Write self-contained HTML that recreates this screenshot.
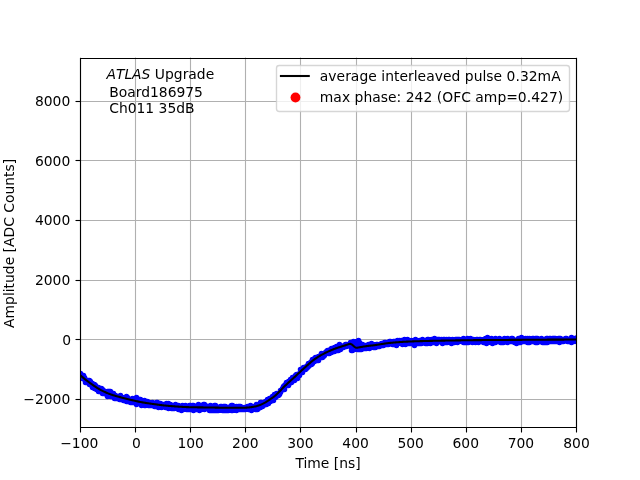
<!DOCTYPE html>
<html lang="en"><head><meta charset="utf-8"><title>Average interleaved pulse</title>
<style>
html,body{margin:0;padding:0;background:#ffffff;overflow:hidden}
svg{display:block}
text{font-family:"DejaVu Sans","Liberation Sans",sans-serif;font-size:13.89px;fill:#000000}
.g{stroke:#b0b0b0;stroke-width:1.11;fill:none}
.k{stroke:#000000;stroke-width:1.11;fill:none}
.lg{letter-spacing:0.03px}.p{white-space:pre}
.m{text-anchor:middle}.e{text-anchor:end}.i{font-style:oblique}
</style></head><body>
<svg width="640" height="480" viewBox="0 0 640 480" style="will-change:transform">
<rect x="0" y="0" width="640" height="480" fill="#ffffff"/>
<clipPath id="ax"><rect x="80" y="57.6" width="496" height="369.6"/></clipPath>
<g class="g">
<path d="M80.5 57.6V427.2"/>
<path d="M135.5 57.6V427.2"/>
<path d="M190.5 57.6V427.2"/>
<path d="M245.5 57.6V427.2"/>
<path d="M300.5 57.6V427.2"/>
<path d="M356.5 57.6V427.2"/>
<path d="M411.5 57.6V427.2"/>
<path d="M466.5 57.6V427.2"/>
<path d="M521.5 57.6V427.2"/>
<path d="M576.5 57.6V427.2"/>
<path d="M80 399.5H576"/>
<path d="M80 339.5H576"/>
<path d="M80 280.5H576"/>
<path d="M80 220.5H576"/>
<path d="M80 160.5H576"/>
<path d="M80 101.5H576"/>
</g>
<g clip-path="url(#ax)">
<path d="M62.5 355.5h0M62.5 356.5h0M63.5 356.5h0M63.5 354.5h0M64.5 356.5h0M64.5 358.5h0M64.5 355.5h0M65.5 359.5h0M66.5 359.5h0M66.5 358.5h0M67.5 359.5h0M67.5 360.5h0M68.5 361.5h0M68.5 362.5h0M68.5 364.5h0M69.5 364.5h0M70.5 367.5h0M70.5 363.5h0M71.5 366.5h0M71.5 364.5h0M72.5 364.5h0M72.5 367.5h0M73.5 369.5h0M73.5 368.5h0M74.5 369.5h0M74.5 368.5h0M75.5 367.5h0M75.5 369.5h0M76.5 372.5h0M76.5 369.5h0M76.5 371.5h0M77.5 369.5h0M77.5 373.5h0M78.5 371.5h0M78.5 372.5h0M78.5 375.5h0M79.5 373.5h0M79.5 376.5h0M80.5 375.5h0M80.5 377.5h0M80.5 373.5h0M81.5 377.5h0M81.5 376.5h0M82.5 378.5h0M82.5 376.5h0M83.5 375.5h0M83.5 377.5h0M84.5 377.5h0M84.5 379.5h0M85.5 379.5h0M85.5 382.5h0M86.5 381.5h0M86.5 380.5h0M87.5 382.5h0M87.5 380.5h0M88.5 381.5h0M88.5 380.5h0M89.5 380.5h0M89.5 384.5h0M90.5 381.5h0M90.5 383.5h0M90.5 382.5h0M91.5 385.5h0M92.5 383.5h0M92.5 386.5h0M92.5 387.5h0M93.5 387.5h0M93.5 385.5h0M94.5 384.5h0M94.5 388.5h0M95.5 386.5h0M95.5 385.5h0M96.5 389.5h0M96.5 388.5h0M97.5 387.5h0M98.5 387.5h0M98.5 391.5h0M99.5 389.5h0M100.5 389.5h0M100.5 391.5h0M100.5 388.5h0M101.5 389.5h0M101.5 388.5h0M102.5 389.5h0M102.5 393.5h0M102.5 391.5h0M103.5 390.5h0M103.5 391.5h0M104.5 393.5h0M104.5 391.5h0M104.5 392.5h0M105.5 393.5h0M105.5 392.5h0M106.5 392.5h0M106.5 394.5h0M107.5 391.5h0M107.5 396.5h0M108.5 391.5h0M108.5 394.5h0M108.5 395.5h0M109.5 391.5h0M109.5 394.5h0M110.5 395.5h0M110.5 391.5h0M110.5 396.5h0M111.5 396.5h0M111.5 394.5h0M112.5 396.5h0M112.5 393.5h0M112.5 394.5h0M113.5 394.5h0M113.5 393.5h0M114.5 395.5h0M114.5 398.5h0M114.5 396.5h0M115.5 395.5h0M116.5 398.5h0M116.5 396.5h0M117.5 396.5h0M117.5 397.5h0M118.5 398.5h0M118.5 397.5h0M119.5 396.5h0M119.5 399.5h0M120.5 396.5h0M120.5 399.5h0M120.5 395.5h0M121.5 397.5h0M122.5 399.5h0M122.5 397.5h0M123.5 399.5h0M123.5 400.5h0M124.5 399.5h0M124.5 400.5h0M124.5 397.5h0M125.5 398.5h0M125.5 397.5h0M126.5 396.5h0M126.5 397.5h0M126.5 401.5h0M127.5 401.5h0M127.5 397.5h0M128.5 400.5h0M128.5 399.5h0M129.5 400.5h0M129.5 399.5h0M130.5 402.5h0M130.5 400.5h0M131.5 401.5h0M131.5 399.5h0M132.5 398.5h0M132.5 400.5h0M132.5 402.5h0M133.5 402.5h0M134.5 399.5h0M134.5 402.5h0M135.5 402.5h0M135.5 401.5h0M136.5 404.5h0M136.5 397.5h0M136.5 399.5h0M137.5 399.5h0M137.5 400.5h0M138.5 401.5h0M138.5 400.5h0M138.5 402.5h0M139.5 399.5h0M139.5 402.5h0M140.5 400.5h0M140.5 403.5h0M140.5 399.5h0M141.5 401.5h0M141.5 405.5h0M142.5 402.5h0M142.5 404.5h0M142.5 403.5h0M143.5 403.5h0M143.5 401.5h0M144.5 403.5h0M144.5 400.5h0M144.5 405.5h0M145.5 405.5h0M145.5 404.5h0M146.5 401.5h0M146.5 402.5h0M146.5 403.5h0M147.5 401.5h0M147.5 404.5h0M148.5 405.5h0M148.5 403.5h0M149.5 404.5h0M149.5 402.5h0M150.5 404.5h0M150.5 405.5h0M150.5 403.5h0M151.5 404.5h0M152.5 405.5h0M152.5 402.5h0M153.5 405.5h0M154.5 406.5h0M154.5 404.5h0M155.5 406.5h0M156.5 403.5h0M156.5 402.5h0M156.5 406.5h0M157.5 402.5h0M157.5 405.5h0M158.5 407.5h0M158.5 404.5h0M159.5 405.5h0M160.5 403.5h0M160.5 404.5h0M161.5 406.5h0M161.5 407.5h0M162.5 405.5h0M162.5 406.5h0M163.5 404.5h0M163.5 405.5h0M164.5 405.5h0M164.5 404.5h0M165.5 407.5h0M165.5 406.5h0M166.5 405.5h0M166.5 403.5h0M166.5 406.5h0M167.5 404.5h0M168.5 404.5h0M168.5 403.5h0M168.5 408.5h0M169.5 405.5h0M170.5 407.5h0M170.5 404.5h0M171.5 406.5h0M171.5 408.5h0M172.5 405.5h0M172.5 407.5h0M173.5 407.5h0M173.5 408.5h0M174.5 408.5h0M174.5 405.5h0M175.5 404.5h0M175.5 406.5h0M176.5 407.5h0M176.5 405.5h0M177.5 407.5h0M177.5 408.5h0M178.5 409.5h0M178.5 405.5h0M179.5 408.5h0M180.5 408.5h0M180.5 409.5h0M181.5 410.5h0M181.5 408.5h0M182.5 407.5h0M182.5 405.5h0M183.5 409.5h0M183.5 408.5h0M184.5 408.5h0M184.5 406.5h0M185.5 406.5h0M185.5 405.5h0M186.5 409.5h0M186.5 407.5h0M186.5 406.5h0M187.5 407.5h0M187.5 408.5h0M188.5 407.5h0M188.5 409.5h0M189.5 407.5h0M189.5 405.5h0M190.5 409.5h0M190.5 405.5h0M191.5 408.5h0M191.5 409.5h0M192.5 409.5h0M192.5 406.5h0M192.5 405.5h0M193.5 410.5h0M193.5 405.5h0M194.5 406.5h0M194.5 408.5h0M194.5 407.5h0M195.5 408.5h0M195.5 406.5h0M196.5 409.5h0M196.5 406.5h0M196.5 408.5h0M197.5 405.5h0M197.5 407.5h0M198.5 404.5h0M198.5 406.5h0M198.5 407.5h0M199.5 410.5h0M199.5 407.5h0M200.5 405.5h0M200.5 409.5h0M201.5 409.5h0M201.5 406.5h0M202.5 407.5h0M202.5 406.5h0M203.5 404.5h0M203.5 408.5h0M204.5 404.5h0M204.5 406.5h0M204.5 409.5h0M205.5 407.5h0M205.5 405.5h0M206.5 408.5h0M206.5 406.5h0M207.5 407.5h0M208.5 408.5h0M208.5 407.5h0M209.5 408.5h0M209.5 410.5h0M210.5 406.5h0M210.5 405.5h0M211.5 410.5h0M212.5 406.5h0M212.5 410.5h0M213.5 408.5h0M214.5 410.5h0M214.5 405.5h0M214.5 407.5h0M215.5 409.5h0M215.5 405.5h0M216.5 407.5h0M216.5 410.5h0M217.5 409.5h0M218.5 408.5h0M218.5 409.5h0M218.5 410.5h0M219.5 408.5h0M219.5 409.5h0M220.5 406.5h0M220.5 409.5h0M221.5 406.5h0M221.5 409.5h0M222.5 408.5h0M222.5 407.5h0M222.5 410.5h0M223.5 406.5h0M223.5 408.5h0M224.5 406.5h0M224.5 410.5h0M224.5 408.5h0M225.5 409.5h0M225.5 406.5h0M226.5 410.5h0M226.5 409.5h0M226.5 408.5h0M227.5 410.5h0M227.5 408.5h0M228.5 408.5h0M228.5 409.5h0M228.5 410.5h0M229.5 407.5h0M229.5 409.5h0M230.5 406.5h0M230.5 408.5h0M230.5 409.5h0M231.5 405.5h0M231.5 410.5h0M232.5 405.5h0M232.5 410.5h0M232.5 408.5h0M233.5 408.5h0M233.5 409.5h0M234.5 408.5h0M234.5 409.5h0M234.5 406.5h0M235.5 408.5h0M236.5 410.5h0M236.5 406.5h0M236.5 407.5h0M237.5 408.5h0M238.5 406.5h0M238.5 408.5h0M238.5 407.5h0M239.5 406.5h0M239.5 409.5h0M240.5 406.5h0M240.5 408.5h0M240.5 409.5h0M241.5 409.5h0M241.5 408.5h0M242.5 409.5h0M242.5 408.5h0M243.5 409.5h0M244.5 408.5h0M244.5 407.5h0M245.5 407.5h0M245.5 409.5h0M246.5 407.5h0M246.5 408.5h0M247.5 408.5h0M247.5 406.5h0M248.5 409.5h0M248.5 407.5h0M249.5 408.5h0M250.5 408.5h0M250.5 405.5h0M250.5 407.5h0M251.5 410.5h0M251.5 407.5h0M252.5 408.5h0M253.5 407.5h0M253.5 406.5h0M254.5 406.5h0M255.5 407.5h0M255.5 409.5h0M256.5 404.5h0M256.5 406.5h0M256.5 405.5h0M257.5 407.5h0M257.5 409.5h0M258.5 408.5h0M258.5 405.5h0M258.5 404.5h0M259.5 407.5h0M259.5 405.5h0M260.5 406.5h0M260.5 402.5h0M260.5 407.5h0M261.5 402.5h0M261.5 404.5h0M262.5 403.5h0M262.5 406.5h0M263.5 405.5h0M263.5 403.5h0M264.5 404.5h0M264.5 403.5h0M264.5 402.5h0M265.5 403.5h0M265.5 401.5h0M266.5 402.5h0M266.5 403.5h0M266.5 404.5h0M267.5 399.5h0M267.5 402.5h0M268.5 403.5h0M268.5 401.5h0M268.5 399.5h0M269.5 401.5h0M269.5 398.5h0M270.5 401.5h0M270.5 399.5h0M270.5 400.5h0M271.5 398.5h0M271.5 399.5h0M272.5 399.5h0M272.5 396.5h0M273.5 400.5h0M273.5 396.5h0M274.5 396.5h0M274.5 395.5h0M274.5 394.5h0M275.5 397.5h0M276.5 396.5h0M276.5 393.5h0M277.5 394.5h0M277.5 395.5h0M278.5 394.5h0M278.5 395.5h0M278.5 393.5h0M279.5 393.5h0M279.5 394.5h0M280.5 392.5h0M280.5 390.5h0M281.5 390.5h0M282.5 388.5h0M282.5 389.5h0M283.5 386.5h0M284.5 385.5h0M284.5 386.5h0M284.5 389.5h0M285.5 384.5h0M285.5 385.5h0M286.5 384.5h0M286.5 385.5h0M286.5 382.5h0M287.5 384.5h0M287.5 382.5h0M288.5 382.5h0M288.5 385.5h0M288.5 381.5h0M289.5 383.5h0M289.5 381.5h0M290.5 381.5h0M290.5 382.5h0M290.5 379.5h0M291.5 382.5h0M292.5 380.5h0M292.5 377.5h0M293.5 380.5h0M294.5 377.5h0M294.5 380.5h0M294.5 379.5h0M295.5 375.5h0M295.5 376.5h0M296.5 374.5h0M296.5 378.5h0M296.5 377.5h0M297.5 378.5h0M297.5 375.5h0M298.5 375.5h0M298.5 374.5h0M299.5 375.5h0M299.5 373.5h0M300.5 372.5h0M300.5 369.5h0M301.5 372.5h0M301.5 371.5h0M302.5 370.5h0M302.5 372.5h0M302.5 371.5h0M303.5 368.5h0M303.5 367.5h0M304.5 367.5h0M305.5 367.5h0M305.5 369.5h0M306.5 366.5h0M306.5 368.5h0M306.5 367.5h0M307.5 367.5h0M307.5 365.5h0M308.5 363.5h0M308.5 366.5h0M309.5 363.5h0M309.5 365.5h0M310.5 364.5h0M310.5 362.5h0M311.5 364.5h0M311.5 361.5h0M312.5 363.5h0M312.5 359.5h0M312.5 362.5h0M313.5 359.5h0M313.5 361.5h0M314.5 358.5h0M314.5 361.5h0M315.5 357.5h0M316.5 360.5h0M316.5 358.5h0M316.5 357.5h0M317.5 359.5h0M317.5 357.5h0M318.5 360.5h0M318.5 356.5h0M318.5 358.5h0M319.5 357.5h0M320.5 355.5h0M320.5 357.5h0M321.5 354.5h0M321.5 353.5h0M322.5 357.5h0M322.5 356.5h0M322.5 354.5h0M323.5 356.5h0M323.5 353.5h0M324.5 354.5h0M324.5 355.5h0M324.5 353.5h0M325.5 352.5h0M325.5 353.5h0M326.5 351.5h0M327.5 351.5h0M327.5 350.5h0M328.5 351.5h0M328.5 350.5h0M328.5 353.5h0M329.5 353.5h0M329.5 350.5h0M330.5 351.5h0M330.5 349.5h0M331.5 348.5h0M331.5 352.5h0M332.5 350.5h0M332.5 351.5h0M332.5 348.5h0M333.5 350.5h0M333.5 351.5h0M334.5 351.5h0M334.5 347.5h0M334.5 349.5h0M335.5 349.5h0M335.5 350.5h0M336.5 346.5h0M336.5 347.5h0M336.5 350.5h0M337.5 348.5h0M338.5 350.5h0M338.5 347.5h0M338.5 346.5h0M339.5 347.5h0M339.5 344.5h0M340.5 345.5h0M340.5 348.5h0M340.5 349.5h0M341.5 347.5h0M342.5 346.5h0M342.5 347.5h0M343.5 347.5h0M344.5 346.5h0M344.5 345.5h0M345.5 344.5h0M346.5 345.5h0M346.5 346.5h0M346.5 344.5h0M347.5 345.5h0M348.5 345.5h0M348.5 344.5h0M349.5 344.5h0M349.5 345.5h0M350.5 345.5h0M350.5 342.5h0M350.5 346.5h0M351.5 350.5h0M351.5 345.5h0M351.5 347.5h0M351.5 342.5h0M352.5 342.5h0M352.5 347.5h0M352.5 350.5h0M352.5 345.5h0M353.5 347.5h0M353.5 346.5h0M353.5 348.5h0M353.5 341.5h0M353.5 349.5h0M354.5 343.5h0M354.5 349.5h0M354.5 342.5h0M354.5 347.5h0M355.5 347.5h0M355.5 345.5h0M355.5 342.5h0M356.5 341.5h0M356.5 347.5h0M356.5 343.5h0M356.5 346.5h0M357.5 348.5h0M357.5 344.5h0M357.5 347.5h0M357.5 343.5h0M357.5 349.5h0M358.5 340.5h0M358.5 347.5h0M358.5 343.5h0M358.5 346.5h0M358.5 345.5h0M359.5 347.5h0M359.5 345.5h0M359.5 349.5h0M359.5 342.5h0M359.5 346.5h0M360.5 347.5h0M360.5 348.5h0M361.5 347.5h0M361.5 349.5h0M362.5 344.5h0M362.5 348.5h0M363.5 345.5h0M363.5 346.5h0M363.5 348.5h0M364.5 347.5h0M364.5 348.5h0M365.5 345.5h0M365.5 348.5h0M365.5 346.5h0M366.5 345.5h0M366.5 348.5h0M367.5 347.5h0M367.5 345.5h0M368.5 345.5h0M368.5 344.5h0M369.5 345.5h0M369.5 348.5h0M369.5 344.5h0M370.5 347.5h0M370.5 346.5h0M371.5 343.5h0M371.5 346.5h0M372.5 346.5h0M373.5 346.5h0M373.5 347.5h0M373.5 344.5h0M374.5 347.5h0M374.5 345.5h0M375.5 347.5h0M375.5 346.5h0M376.5 344.5h0M376.5 345.5h0M377.5 346.5h0M377.5 344.5h0M378.5 346.5h0M378.5 345.5h0M379.5 344.5h0M379.5 346.5h0M379.5 345.5h0M380.5 344.5h0M381.5 344.5h0M381.5 343.5h0M382.5 345.5h0M383.5 344.5h0M383.5 345.5h0M383.5 343.5h0M384.5 343.5h0M384.5 342.5h0M385.5 342.5h0M385.5 344.5h0M385.5 343.5h0M386.5 343.5h0M387.5 342.5h0M387.5 344.5h0M388.5 344.5h0M388.5 342.5h0M389.5 343.5h0M389.5 341.5h0M390.5 343.5h0M390.5 341.5h0M391.5 342.5h0M391.5 343.5h0M392.5 342.5h0M392.5 344.5h0M393.5 341.5h0M393.5 344.5h0M394.5 341.5h0M394.5 342.5h0M395.5 344.5h0M395.5 342.5h0M395.5 343.5h0M396.5 344.5h0M396.5 345.5h0M397.5 340.5h0M397.5 342.5h0M398.5 343.5h0M398.5 341.5h0M399.5 341.5h0M399.5 340.5h0M400.5 342.5h0M400.5 341.5h0M401.5 341.5h0M401.5 342.5h0M401.5 340.5h0M402.5 340.5h0M402.5 344.5h0M403.5 342.5h0M403.5 340.5h0M403.5 343.5h0M404.5 339.5h0M404.5 341.5h0M405.5 344.5h0M405.5 343.5h0M405.5 342.5h0M406.5 340.5h0M406.5 341.5h0M407.5 340.5h0M407.5 341.5h0M407.5 339.5h0M408.5 341.5h0M408.5 343.5h0M409.5 340.5h0M409.5 343.5h0M410.5 341.5h0M411.5 340.5h0M411.5 343.5h0M411.5 342.5h0M412.5 342.5h0M412.5 341.5h0M413.5 340.5h0M413.5 341.5h0M414.5 343.5h0M414.5 345.5h0M415.5 342.5h0M415.5 341.5h0M415.5 339.5h0M416.5 343.5h0M416.5 340.5h0M417.5 340.5h0M417.5 342.5h0M418.5 343.5h0M418.5 341.5h0M419.5 340.5h0M419.5 343.5h0M420.5 343.5h0M420.5 340.5h0M421.5 343.5h0M421.5 340.5h0M421.5 341.5h0M422.5 341.5h0M422.5 339.5h0M423.5 341.5h0M423.5 340.5h0M423.5 342.5h0M424.5 341.5h0M424.5 342.5h0M425.5 343.5h0M425.5 341.5h0M425.5 340.5h0M426.5 343.5h0M426.5 341.5h0M427.5 339.5h0M427.5 343.5h0M428.5 341.5h0M428.5 339.5h0M429.5 341.5h0M430.5 343.5h0M431.5 339.5h0M431.5 341.5h0M432.5 342.5h0M432.5 341.5h0M433.5 342.5h0M433.5 341.5h0M433.5 340.5h0M434.5 342.5h0M434.5 338.5h0M435.5 341.5h0M435.5 339.5h0M436.5 343.5h0M436.5 341.5h0M437.5 339.5h0M437.5 341.5h0M438.5 339.5h0M438.5 340.5h0M439.5 339.5h0M439.5 341.5h0M439.5 340.5h0M440.5 341.5h0M440.5 340.5h0M441.5 341.5h0M441.5 339.5h0M441.5 342.5h0M442.5 343.5h0M442.5 341.5h0M443.5 341.5h0M443.5 342.5h0M443.5 339.5h0M444.5 342.5h0M444.5 339.5h0M445.5 342.5h0M445.5 340.5h0M445.5 341.5h0M446.5 342.5h0M446.5 339.5h0M447.5 342.5h0M447.5 341.5h0M447.5 340.5h0M448.5 340.5h0M448.5 339.5h0M449.5 340.5h0M449.5 341.5h0M449.5 339.5h0M450.5 341.5h0M450.5 342.5h0M451.5 343.5h0M451.5 342.5h0M452.5 339.5h0M452.5 342.5h0M453.5 340.5h0M453.5 342.5h0M454.5 342.5h0M454.5 341.5h0M455.5 339.5h0M455.5 340.5h0M456.5 339.5h0M457.5 342.5h0M457.5 339.5h0M458.5 339.5h0M458.5 340.5h0M459.5 339.5h0M459.5 340.5h0M460.5 340.5h0M461.5 339.5h0M461.5 341.5h0M461.5 340.5h0M462.5 340.5h0M463.5 342.5h0M463.5 338.5h0M463.5 341.5h0M464.5 339.5h0M464.5 342.5h0M465.5 340.5h0M465.5 342.5h0M466.5 341.5h0M466.5 339.5h0M467.5 338.5h0M467.5 342.5h0M468.5 340.5h0M468.5 342.5h0M469.5 339.5h0M470.5 338.5h0M470.5 340.5h0M471.5 341.5h0M471.5 340.5h0M471.5 339.5h0M472.5 342.5h0M472.5 341.5h0M473.5 340.5h0M473.5 339.5h0M474.5 341.5h0M474.5 340.5h0M475.5 342.5h0M475.5 340.5h0M476.5 339.5h0M476.5 340.5h0M477.5 341.5h0M477.5 339.5h0M478.5 342.5h0M478.5 341.5h0M479.5 340.5h0M479.5 339.5h0M479.5 341.5h0M480.5 339.5h0M480.5 341.5h0M481.5 341.5h0M481.5 340.5h0M482.5 340.5h0M483.5 339.5h0M483.5 342.5h0M484.5 341.5h0M484.5 340.5h0M485.5 342.5h0M485.5 338.5h0M486.5 343.5h0M486.5 340.5h0M487.5 338.5h0M487.5 340.5h0M487.5 337.5h0M488.5 340.5h0M488.5 339.5h0M489.5 340.5h0M489.5 339.5h0M490.5 341.5h0M490.5 342.5h0M491.5 339.5h0M491.5 340.5h0M491.5 338.5h0M492.5 339.5h0M492.5 343.5h0M493.5 339.5h0M493.5 342.5h0M493.5 341.5h0M494.5 340.5h0M494.5 341.5h0M495.5 340.5h0M495.5 342.5h0M495.5 338.5h0M496.5 339.5h0M496.5 341.5h0M497.5 340.5h0M497.5 339.5h0M498.5 339.5h0M498.5 340.5h0M499.5 340.5h0M499.5 341.5h0M499.5 338.5h0M500.5 340.5h0M500.5 342.5h0M501.5 340.5h0M501.5 341.5h0M501.5 339.5h0M502.5 342.5h0M502.5 340.5h0M503.5 342.5h0M503.5 341.5h0M504.5 338.5h0M504.5 341.5h0M505.5 339.5h0M506.5 340.5h0M507.5 342.5h0M507.5 338.5h0M507.5 339.5h0M508.5 339.5h0M508.5 341.5h0M509.5 340.5h0M509.5 341.5h0M510.5 340.5h0M510.5 339.5h0M511.5 338.5h0M511.5 340.5h0M511.5 341.5h0M512.5 341.5h0M512.5 338.5h0M513.5 340.5h0M514.5 340.5h0M514.5 342.5h0M515.5 340.5h0M516.5 343.5h0M516.5 342.5h0M517.5 340.5h0M517.5 341.5h0M517.5 339.5h0M518.5 342.5h0M518.5 338.5h0M519.5 338.5h0M519.5 341.5h0M519.5 339.5h0M520.5 342.5h0M520.5 340.5h0M521.5 339.5h0M521.5 337.5h0M521.5 341.5h0M522.5 339.5h0M522.5 341.5h0M523.5 341.5h0M523.5 339.5h0M523.5 338.5h0M524.5 341.5h0M524.5 339.5h0M525.5 338.5h0M525.5 340.5h0M526.5 339.5h0M526.5 340.5h0M527.5 342.5h0M527.5 341.5h0M527.5 338.5h0M528.5 340.5h0M529.5 342.5h0M529.5 338.5h0M529.5 340.5h0M530.5 341.5h0M530.5 340.5h0M531.5 339.5h0M531.5 340.5h0M532.5 341.5h0M532.5 338.5h0M533.5 338.5h0M533.5 341.5h0M534.5 339.5h0M534.5 341.5h0M535.5 341.5h0M535.5 342.5h0M535.5 338.5h0M536.5 338.5h0M536.5 339.5h0M537.5 342.5h0M537.5 341.5h0M537.5 338.5h0M538.5 340.5h0M538.5 341.5h0M539.5 341.5h0M540.5 341.5h0M540.5 339.5h0M541.5 338.5h0M541.5 340.5h0M541.5 339.5h0M542.5 339.5h0M542.5 342.5h0M543.5 340.5h0M543.5 341.5h0M544.5 339.5h0M544.5 342.5h0M545.5 342.5h0M545.5 339.5h0M546.5 338.5h0M546.5 341.5h0M547.5 339.5h0M547.5 338.5h0M547.5 342.5h0M548.5 340.5h0M549.5 341.5h0M549.5 338.5h0M550.5 339.5h0M550.5 338.5h0M551.5 340.5h0M551.5 341.5h0M552.5 341.5h0M552.5 338.5h0M553.5 339.5h0M553.5 341.5h0M553.5 338.5h0M554.5 340.5h0M554.5 338.5h0M555.5 341.5h0M555.5 338.5h0M555.5 339.5h0M556.5 340.5h0M556.5 341.5h0M557.5 341.5h0M557.5 340.5h0M557.5 339.5h0M558.5 338.5h0M558.5 340.5h0M559.5 342.5h0M559.5 338.5h0M559.5 341.5h0M560.5 338.5h0M560.5 339.5h0M561.5 340.5h0M561.5 341.5h0M562.5 340.5h0M562.5 339.5h0M563.5 341.5h0M563.5 340.5h0M563.5 339.5h0M564.5 339.5h0M564.5 340.5h0M565.5 339.5h0M565.5 338.5h0M566.5 339.5h0M566.5 338.5h0M567.5 341.5h0M567.5 339.5h0M568.5 340.5h0M568.5 341.5h0M569.5 339.5h0M569.5 340.5h0M570.5 340.5h0M570.5 341.5h0M571.5 337.5h0M571.5 341.5h0M571.5 342.5h0M572.5 341.5h0M572.5 340.5h0M573.5 341.5h0M573.5 339.5h0M573.5 340.5h0M574.5 338.5h0M574.5 340.5h0M575.5 340.5h0M575.5 339.5h0M575.5 338.5h0M576.5 341.5h0M577.5 341.5h0M577.5 337.5h0M577.5 340.5h0M578.5 338.5h0M578.5 341.5h0M579.5 340.5h0M579.5 339.5h0M580.5 338.5h0M580.5 341.5h0M581.5 340.5h0M581.5 341.5h0M581.5 339.5h0M582.5 338.5h0M582.5 340.5h0M583.5 340.5h0M583.5 341.5h0M584.5 338.5h0M584.5 340.5h0M585.5 339.5h0M585.5 341.5h0M586.5 339.5h0M587.5 340.5h0M588.5 340.5h0M588.5 338.5h0M589.5 340.5h0M590.5 341.5h0M590.5 339.5h0M591.5 337.5h0M591.5 339.5h0M591.5 338.5h0M592.5 339.5h0M592.5 338.5h0M593.5 340.5h0M593.5 341.5h0M593.5 337.5h0M594.5 338.5h0M594.5 340.5h0M595.5 338.5h0M595.5 341.5h0M596.5 339.5h0M596.5 340.5h0M597.5 338.5h0M597.5 339.5h0M598.5 340.5h0" fill="none" stroke="#0000ff" stroke-width="5.56" stroke-linecap="round"/>
<path d="M62 353.88 62.5 354.58 63 355.28 63.5 355.98 64 356.66 64.5 357.34 65 358.01 65.5 358.67 66 359.33 66.5 359.98 67 360.62 67.5 361.25 68 361.88 68.5 362.5 69 363.11 69.5 363.71 70 364.3 70.5 364.89 71 365.47 71.5 366.04 72 366.61 72.5 367.18 73 367.74 73.5 368.3 74 368.85 74.5 369.39 75 369.93 75.5 370.46 76 370.98 76.5 371.5 77 372.02 77.5 372.52 78 373.02 78.5 373.51 79 373.99 79.5 374.47 80 374.94 80.5 375.4 81 375.85 81.5 376.29 82 376.73 82.5 377.16 83 377.59 83.5 378.01 84 378.42 84.5 378.83 85 379.23 85.5 379.62 86 380.01 86.5 380.4 87 380.78 87.5 381.16 88 381.53 88.5 381.9 89 382.27 89.5 382.63 90 382.99 90.5 383.35 91 383.7 91.5 384.05 92 384.4 92.5 384.75 93 385.1 93.5 385.45 94 385.79 94.5 386.13 95 386.47 95.5 386.8 96 387.13 96.5 387.45 97 387.77 97.5 388.09 98 388.4 98.5 388.7 99 388.99 99.5 389.28 100 389.56 100.5 389.84 101 390.1 101.5 390.36 102 390.61 102.5 390.87 103 391.11 103.5 391.36 104 391.6 104.5 391.83 105 392.06 105.5 392.29 106 392.51 106.5 392.73 107 392.95 107.5 393.16 108 393.36 108.5 393.57 109 393.76 109.5 393.95 110 394.14 110.5 394.32 111 394.5 111.5 394.67 112 394.84 112.5 395 113 395.16 113.5 395.32 114 395.47 114.5 395.62 115 395.77 115.5 395.91 116 396.05 116.5 396.19 117 396.33 117.5 396.46 118 396.6 118.5 396.73 119 396.87 119.5 397 120 397.13 120.5 397.27 121 397.4 121.5 397.53 122 397.67 122.5 397.8 123 397.93 123.5 398.06 124 398.19 124.5 398.32 125 398.44 125.5 398.57 126 398.69 126.5 398.82 127 398.94 127.5 399.06 128 399.19 128.5 399.31 129 399.43 129.5 399.55 130 399.66 130.5 399.78 131 399.9 131.5 400.02 132 400.13 132.5 400.25 133 400.37 133.5 400.49 134 400.6 134.5 400.72 135 400.83 135.5 400.95 136 401.06 136.5 401.17 137 401.28 137.5 401.39 138 401.5 138.5 401.61 139 401.71 139.5 401.81 140 401.91 140.5 402.01 141 402.1 141.5 402.19 142 402.28 142.5 402.37 143 402.46 143.5 402.54 144 402.63 144.5 402.71 145 402.8 145.5 402.88 146 402.96 146.5 403.04 147 403.11 147.5 403.19 148 403.27 148.5 403.34 149 403.41 149.5 403.49 150 403.56 150.5 403.63 151 403.7 151.5 403.77 152 403.84 152.5 403.91 153 403.98 153.5 404.05 154 404.12 154.5 404.19 155 404.26 155.5 404.33 156 404.4 156.5 404.46 157 404.53 157.5 404.6 158 404.67 158.5 404.73 159 404.8 159.5 404.86 160 404.93 160.5 404.99 161 405.05 161.5 405.12 162 405.18 162.5 405.24 163 405.3 163.5 405.35 164 405.41 164.5 405.47 165 405.52 165.5 405.58 166 405.63 166.5 405.68 167 405.73 167.5 405.78 168 405.83 168.5 405.87 169 405.92 169.5 405.96 170 406 170.5 406.04 171 406.08 171.5 406.12 172 406.16 172.5 406.2 173 406.24 173.5 406.28 174 406.32 174.5 406.35 175 406.39 175.5 406.43 176 406.47 176.5 406.5 177 406.54 177.5 406.57 178 406.61 178.5 406.64 179 406.68 179.5 406.71 180 406.74 180.5 406.77 181 406.8 181.5 406.83 182 406.86 182.5 406.89 183 406.92 183.5 406.95 184 406.97 184.5 407 185 407.02 185.5 407.04 186 407.07 186.5 407.09 187 407.11 187.5 407.12 188 407.14 188.5 407.16 189 407.17 189.5 407.19 190 407.2 190.5 407.21 191 407.22 191.5 407.23 192 407.24 192.5 407.25 193 407.26 193.5 407.27 194 407.28 194.5 407.29 195 407.3 195.5 407.31 196 407.32 196.5 407.32 197 407.33 197.5 407.34 198 407.35 198.5 407.35 199 407.36 199.5 407.37 200 407.37 200.5 407.38 201 407.39 201.5 407.39 202 407.4 202.5 407.4 203 407.41 203.5 407.42 204 407.42 204.5 407.43 205 407.43 205.5 407.44 206 407.45 206.5 407.45 207 407.46 207.5 407.46 208 407.47 208.5 407.48 209 407.49 209.5 407.49 210 407.5 210.5 407.51 211 407.52 211.5 407.52 212 407.53 212.5 407.54 213 407.55 213.5 407.56 214 407.57 214.5 407.58 215 407.59 215.5 407.6 216 407.61 216.5 407.62 217 407.63 217.5 407.64 218 407.65 218.5 407.66 219 407.67 219.5 407.68 220 407.69 220.5 407.7 221 407.71 221.5 407.71 222 407.72 222.5 407.73 223 407.74 223.5 407.75 224 407.75 224.5 407.76 225 407.77 225.5 407.77 226 407.78 226.5 407.78 227 407.79 227.5 407.79 228 407.79 228.5 407.8 229 407.8 229.5 407.8 230 407.8 230.5 407.8 231 407.8 231.5 407.8 232 407.8 232.5 407.8 233 407.8 233.5 407.8 234 407.8 234.5 407.8 235 407.8 235.5 407.8 236 407.8 236.5 407.8 237 407.8 237.5 407.8 238 407.8 238.5 407.8 239 407.8 239.5 407.8 240 407.8 240.5 407.8 241 407.79 241.5 407.79 242 407.78 242.5 407.77 243 407.76 243.5 407.74 244 407.72 244.5 407.71 245 407.69 245.5 407.67 246 407.65 246.5 407.62 247 407.6 247.5 407.57 248 407.54 248.5 407.5 249 407.45 249.5 407.39 250 407.33 250.5 407.27 251 407.2 251.5 407.12 252 407.04 252.5 406.96 253 406.87 253.5 406.78 254 406.69 254.5 406.6 255 406.5 255.5 406.4 256 406.28 256.5 406.15 257 406.01 257.5 405.86 258 405.7 258.5 405.53 259 405.36 259.5 405.18 260 405 260.5 404.81 261 404.6 261.5 404.38 262 404.15 262.5 403.91 263 403.66 263.5 403.41 264 403.14 264.5 402.87 265 402.6 265.5 402.32 266 402.02 266.5 401.72 267 401.4 267.5 401.08 268 400.75 268.5 400.42 269 400.08 269.5 399.74 270 399.4 270.5 399.06 271 398.72 271.5 398.38 272 398.04 272.5 397.69 273 397.33 273.5 396.97 274 396.59 274.5 396.2 275 395.8 275.5 395.38 276 394.94 276.5 394.49 277 394.02 277.5 393.54 278 393.05 278.5 392.54 279 392.03 279.5 391.52 280 390.99 280.5 390.47 281 389.94 281.5 389.41 282 388.89 282.5 388.36 283 387.85 283.5 387.33 284 386.83 284.5 386.33 285 385.85 285.5 385.37 286 384.9 286.5 384.43 287 383.97 287.5 383.5 288 383.04 288.5 382.58 289 382.12 289.5 381.67 290 381.21 290.5 380.76 291 380.3 291.5 379.85 292 379.39 292.5 378.94 293 378.48 293.5 378.03 294 377.57 294.5 377.11 295 376.65 295.5 376.19 296 375.72 296.5 375.25 297 374.78 297.5 374.31 298 373.84 298.5 373.36 299 372.89 299.5 372.42 300 371.95 300.5 371.48 301 371.01 301.5 370.54 302 370.07 302.5 369.61 303 369.15 303.5 368.69 304 368.24 304.5 367.79 305 367.35 305.5 366.91 306 366.46 306.5 366.02 307 365.57 307.5 365.12 308 364.67 308.5 364.23 309 363.79 309.5 363.35 310 362.91 310.5 362.48 311 362.06 311.5 361.64 312 361.23 312.5 360.82 313 360.43 313.5 360.04 314 359.67 314.5 359.3 315 358.95 315.5 358.61 316 358.27 316.5 357.94 317 357.61 317.5 357.29 318 356.97 318.5 356.66 319 356.36 319.5 356.06 320 355.76 320.5 355.47 321 355.18 321.5 354.9 322 354.62 322.5 354.35 323 354.08 323.5 353.82 324 353.56 324.5 353.3 325 353.05 325.5 352.8 326 352.56 326.5 352.31 327 352.08 327.5 351.84 328 351.61 328.5 351.38 329 351.16 329.5 350.94 330 350.72 330.5 350.5 331 350.29 331.5 350.08 332 349.88 332.5 349.67 333 349.47 333.5 349.28 334 349.08 334.5 348.89 335 348.7 335.5 348.51 336 348.33 336.5 348.15 337 347.98 337.5 347.8 338 347.63 338.5 347.47 339 347.3 339.5 347.14 340 346.98 340.5 346.82 341 346.66 341.5 346.5 342 346.34 342.5 346.18 343 346.03 343.5 345.87 344 345.71 344.5 345.56 345 345.4 345.5 345.24 346 345.06 346.5 344.88 347 344.71 347.5 344.53 348 344.37 348.5 344.22 349 344.08 349.5 343.97 350 343.89 350.5 343.91 351 344.06 351.5 344.31 352 344.64 352.5 345.03 353 345.46 353.5 345.91 354 346.35 354.5 346.77 355 347.13 355.5 347.43 356 347.65 356.5 347.76 357 347.75 357.5 347.67 358 347.59 358.5 347.5 359 347.41 359.5 347.32 360 347.23 360.5 347.14 361 347.04 361.5 346.95 362 346.86 362.5 346.77 363 346.68 363.5 346.59 364 346.51 364.5 346.43 365 346.35 365.5 346.28 366 346.21 366.5 346.14 367 346.08 367.5 346.01 368 345.95 368.5 345.89 369 345.83 369.5 345.77 370 345.71 370.5 345.65 371 345.59 371.5 345.53 372 345.47 372.5 345.42 373 345.35 373.5 345.29 374 345.23 374.5 345.17 375 345.1 375.5 345.03 376 344.96 376.5 344.89 377 344.81 377.5 344.74 378 344.66 378.5 344.58 379 344.5 379.5 344.42 380 344.34 380.5 344.26 381 344.17 381.5 344.09 382 344.01 382.5 343.93 383 343.85 383.5 343.77 384 343.69 384.5 343.61 385 343.54 385.5 343.46 386 343.39 386.5 343.32 387 343.25 387.5 343.18 388 343.12 388.5 343.06 389 343 389.5 342.95 390 342.9 390.5 342.85 391 342.8 391.5 342.76 392 342.71 392.5 342.67 393 342.62 393.5 342.58 394 342.53 394.5 342.49 395 342.45 395.5 342.41 396 342.37 396.5 342.33 397 342.29 397.5 342.25 398 342.21 398.5 342.17 399 342.14 399.5 342.1 400 342.06 400.5 342.03 401 341.99 401.5 341.96 402 341.93 402.5 341.9 403 341.87 403.5 341.83 404 341.8 404.5 341.78 405 341.75 405.5 341.72 406 341.69 406.5 341.66 407 341.64 407.5 341.61 408 341.59 408.5 341.57 409 341.54 409.5 341.52 410 341.5 410.5 341.48 411 341.46 411.5 341.44 412 341.42 412.5 341.4 413 341.38 413.5 341.36 414 341.35 414.5 341.33 415 341.31 415.5 341.29 416 341.28 416.5 341.26 417 341.24 417.5 341.23 418 341.21 418.5 341.2 419 341.18 419.5 341.17 420 341.15 420.5 341.14 421 341.13 421.5 341.11 422 341.1 422.5 341.09 423 341.07 423.5 341.06 424 341.05 424.5 341.03 425 341.02 425.5 341.01 426 341 426.5 340.98 427 340.97 427.5 340.96 428 340.95 428.5 340.94 429 340.92 429.5 340.91 430 340.9 430.5 340.89 431 340.88 431.5 340.86 432 340.85 432.5 340.84 433 340.83 433.5 340.82 434 340.81 434.5 340.8 435 340.79 435.5 340.77 436 340.76 436.5 340.75 437 340.74 437.5 340.73 438 340.72 438.5 340.71 439 340.7 439.5 340.69 440 340.68 440.5 340.67 441 340.66 441.5 340.65 442 340.64 442.5 340.63 443 340.62 443.5 340.61 444 340.6 444.5 340.59 445 340.59 445.5 340.58 446 340.57 446.5 340.56 447 340.55 447.5 340.54 448 340.53 448.5 340.52 449 340.52 449.5 340.51 450 340.5 450.5 340.49 451 340.48 451.5 340.48 452 340.47 452.5 340.46 453 340.45 453.5 340.44 454 340.44 454.5 340.43 455 340.42 455.5 340.41 456 340.4 456.5 340.4 457 340.39 457.5 340.38 458 340.37 458.5 340.37 459 340.36 459.5 340.35 460 340.34 460.5 340.34 461 340.33 461.5 340.32 462 340.31 462.5 340.31 463 340.3 463.5 340.29 464 340.29 464.5 340.28 465 340.27 465.5 340.26 466 340.26 466.5 340.25 467 340.24 467.5 340.24 468 340.23 468.5 340.23 469 340.22 469.5 340.21 470 340.21 470.5 340.2 471 340.19 471.5 340.19 472 340.18 472.5 340.18 473 340.17 473.5 340.16 474 340.16 474.5 340.15 475 340.15 475.5 340.14 476 340.14 476.5 340.13 477 340.13 477.5 340.12 478 340.12 478.5 340.11 479 340.11 479.5 340.1 480 340.1 480.5 340.1 481 340.09 481.5 340.09 482 340.08 482.5 340.08 483 340.08 483.5 340.07 484 340.07 484.5 340.06 485 340.06 485.5 340.06 486 340.05 486.5 340.05 487 340.04 487.5 340.04 488 340.04 488.5 340.03 489 340.03 489.5 340.03 490 340.02 490.5 340.02 491 340.02 491.5 340.01 492 340.01 492.5 340.01 493 340 493.5 340 494 340 494.5 340 495 339.99 495.5 339.99 496 339.99 496.5 339.98 497 339.98 497.5 339.98 498 339.97 498.5 339.97 499 339.97 499.5 339.97 500 339.96 500.5 339.96 501 339.96 501.5 339.95 502 339.95 502.5 339.95 503 339.95 503.5 339.94 504 339.94 504.5 339.94 505 339.94 505.5 339.93 506 339.93 506.5 339.93 507 339.92 507.5 339.92 508 339.92 508.5 339.92 509 339.91 509.5 339.91 510 339.91 510.5 339.91 511 339.9 511.5 339.9 512 339.9 512.5 339.89 513 339.89 513.5 339.89 514 339.89 514.5 339.88 515 339.88 515.5 339.88 516 339.87 516.5 339.87 517 339.87 517.5 339.87 518 339.86 518.5 339.86 519 339.86 519.5 339.85 520 339.85 520.5 339.85 521 339.84 521.5 339.84 522 339.84 522.5 339.83 523 339.83 523.5 339.83 524 339.82 524.5 339.82 525 339.82 525.5 339.81 526 339.81 526.5 339.81 527 339.8 527.5 339.8 528 339.8 528.5 339.79 529 339.79 529.5 339.79 530 339.78 530.5 339.78 531 339.78 531.5 339.77 532 339.77 532.5 339.76 533 339.76 533.5 339.76 534 339.75 534.5 339.75 535 339.75 535.5 339.74 536 339.74 536.5 339.74 537 339.73 537.5 339.73 538 339.73 538.5 339.72 539 339.72 539.5 339.72 540 339.71 540.5 339.71 541 339.7 541.5 339.7 542 339.7 542.5 339.69 543 339.69 543.5 339.69 544 339.68 544.5 339.68 545 339.68 545.5 339.67 546 339.67 546.5 339.67 547 339.67 547.5 339.66 548 339.66 548.5 339.66 549 339.65 549.5 339.65 550 339.65 550.5 339.64 551 339.64 551.5 339.64 552 339.64 552.5 339.63 553 339.63 553.5 339.63 554 339.63 554.5 339.62 555 339.62 555.5 339.62 556 339.62 556.5 339.61 557 339.61 557.5 339.61 558 339.61 558.5 339.61 559 339.6 559.5 339.6 560 339.6 560.5 339.6 561 339.6 561.5 339.59 562 339.59 562.5 339.59 563 339.59 563.5 339.59 564 339.59 564.5 339.58 565 339.58 565.5 339.58 566 339.58 566.5 339.58 567 339.58 567.5 339.57 568 339.57 568.5 339.57 569 339.57 569.5 339.57 570 339.57 570.5 339.56 571 339.56 571.5 339.56 572 339.56 572.5 339.56 573 339.56 573.5 339.55 574 339.55 574.5 339.55 575 339.55 575.5 339.55 576 339.55 576.5 339.55 577 339.54 577.5 339.54 578 339.54 578.5 339.54 579 339.54 579.5 339.54 580 339.54 580.5 339.53 581 339.53 581.5 339.53 582 339.53 582.5 339.53 583 339.53 583.5 339.53 584 339.53 584.5 339.52 585 339.52 585.5 339.52 586 339.52 586.5 339.52 587 339.52 587.5 339.52 588 339.52 588.5 339.52 589 339.51 589.5 339.51 590 339.51 590.5 339.51 591 339.51 591.5 339.51 592 339.51 592.5 339.51 593 339.51 593.5 339.51 594 339.51 594.5 339.51 595 339.5 595.5 339.5 596 339.5 596.5 339.5 597 339.5 597.5 339.5" fill="none" stroke="#000000" stroke-width="2.08" stroke-linejoin="round" stroke-linecap="square"/>
</g>
<g class="k">
<path d="M80.5 58.5H576.5V427.5H80.5Z" stroke-linejoin="miter"/>
<path d="M80.5 427.5V432.5"/>
<path d="M135.5 427.5V432.5"/>
<path d="M190.5 427.5V432.5"/>
<path d="M245.5 427.5V432.5"/>
<path d="M300.5 427.5V432.5"/>
<path d="M356.5 427.5V432.5"/>
<path d="M411.5 427.5V432.5"/>
<path d="M466.5 427.5V432.5"/>
<path d="M521.5 427.5V432.5"/>
<path d="M576.5 427.5V432.5"/>
<path d="M80.5 399.5H75.5"/>
<path d="M80.5 339.5H75.5"/>
<path d="M80.5 280.5H75.5"/>
<path d="M80.5 220.5H75.5"/>
<path d="M80.5 160.5H75.5"/>
<path d="M80.5 101.5H75.5"/>
</g>
<g class="m">
<text x="79.3" y="448">−100</text>
<text x="136.31" y="448">0</text>
<text x="190.62" y="448">100</text>
<text x="245.33" y="448">200</text>
<text x="300.44" y="448">300</text>
<text x="355.56" y="448">400</text>
<text x="410.67" y="448">500</text>
<text x="465.78" y="448">600</text>
<text x="520.89" y="448">700</text>
<text x="576.5" y="448">800</text>
<text x="328" y="468">Time [ns]</text>
<text transform="translate(14 243.4) rotate(-90)">Amplitude [ADC Counts]</text>
</g>
<g class="e">
<text x="70.28" y="404">−2000</text>
<text x="70.98" y="345">0</text>
<text x="70.28" y="285">2000</text>
<text x="70.28" y="225">4000</text>
<text x="70.28" y="166">6000</text>
<text x="70.28" y="106">8000</text>
</g>
<text y="78.7"><tspan class="i" x="106.4 115.9 124.39 132.12 141.62">ATLAS</tspan><tspan x="150.44 154.86 165.02 173.84 182.65 188.36 196.87 205.69"> Upgrade</tspan></text>
<text x="104.8" y="97" xml:space="preserve" class="p"> Board186975</text>
<text x="104.8" y="113" xml:space="preserve" class="p"> Ch011 35dB</text>
<rect x="276.5" y="65.5" width="293" height="46" rx="2.8" ry="2.8" fill="#ffffff" fill-opacity="0.8" stroke="#cccccc" stroke-opacity="0.8" stroke-width="1.39"/>
<path d="M279.9 76H309.8" stroke="#000000" stroke-width="2.08" fill="none"/>
<circle cx="295.5" cy="97.5" r="4.93" fill="#ff0000"/>
<text class="lg" x="319.8" y="81">average interleaved pulse 0.32mA</text>
<text class="lg" x="319.8" y="102">max phase: 242 (OFC amp=0.427)</text>
</svg>
</body></html>
